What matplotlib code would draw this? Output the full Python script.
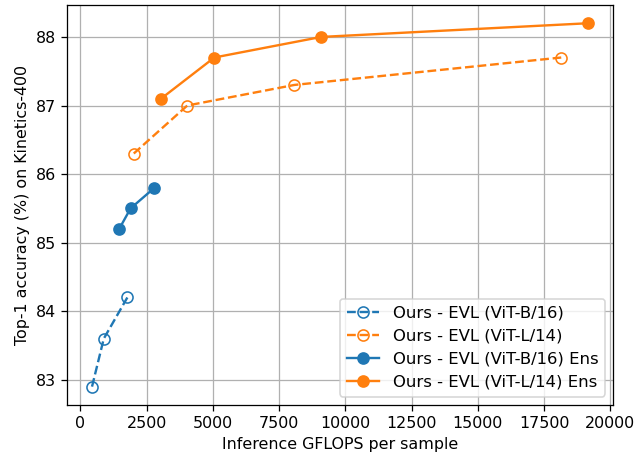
import matplotlib
matplotlib.use("Agg")
import matplotlib.pyplot as plt

b16_flops = [444, 888, 1777]
b16_acc = [82.9, 83.6, 84.2]
l14_flops = [2020, 4040, 8080, 18150]
l14_acc = [86.3, 87.0, 87.3, 87.7]
b16_ens_flops = [1470, 1900, 2800]
b16_ens_acc = [85.2, 85.5, 85.8]
l14_ens_flops = [3050, 5060, 9090, 19170]
l14_ens_acc = [87.1, 87.7, 88.0, 88.2]

# rendered at a higher dpi so text and lines come out a bit larger
fig, ax = plt.subplots(figsize=(634 / 114, 460 / 114), dpi=114)
fig.subplots_adjust(left=0.106, right=0.967, bottom=0.12, top=0.989)

ax.plot(b16_flops, b16_acc, '--o', color='C0', markerfacecolor='none', markersize=7, label='Ours - EVL (ViT-B/16)')
ax.plot(l14_flops, l14_acc, '--o', color='C1', markerfacecolor='none', markersize=7, label='Ours - EVL (ViT-L/14)')
ax.plot(b16_ens_flops, b16_ens_acc, '-o', color='C0', markersize=7, label='Ours - EVL (ViT-B/16) Ens')
ax.plot(l14_ens_flops, l14_ens_acc, '-o', color='C1', markersize=7, label='Ours - EVL (ViT-L/14) Ens')

ax.grid(True)
ax.set_xlabel('Inference GFLOPS per sample')
ax.set_ylabel('Top-1 accuracy (%) on Kinetics-400')
ax.legend(loc='lower right', fontsize=10.4)

fig.savefig('out.png', dpi=114)
